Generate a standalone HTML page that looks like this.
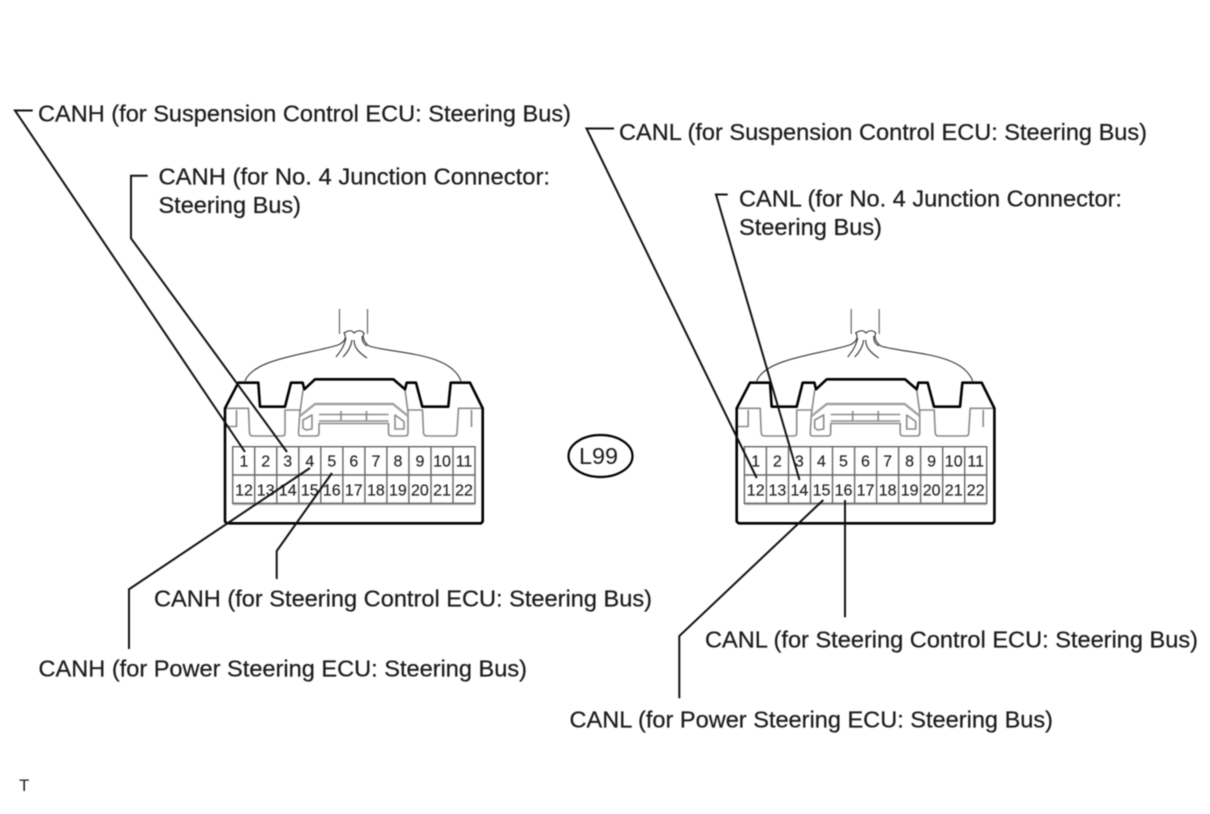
<!DOCTYPE html>
<html>
<head>
<meta charset="utf-8">
<style>
html,body{margin:0;padding:0;background:#fff;width:1210px;height:814px;overflow:hidden}
svg{display:block;filter:blur(.45px)}
text{font-family:"Liberation Sans",sans-serif;fill:#1c1c1c}
.l{font-size:23px;stroke:#1c1c1c;stroke-width:.25px}
.n{font-size:16px;text-anchor:middle;fill:#222;stroke:#222;stroke-width:.15px}
.o{fill:none;stroke:#000;stroke-width:2.6;stroke-linejoin:round}
.g{fill:none;stroke:#8a8a8a;stroke-width:1.6;stroke-linejoin:round}
.gb{fill:none;stroke:#a0a0a0;stroke-width:2.4;stroke-linejoin:round}
.t{fill:none;stroke:#333;stroke-width:1.1}
.c{fill:none;stroke:#666;stroke-width:1.2}
.w{fill:none;stroke:#111;stroke-width:2;stroke-linejoin:miter}
</style>
</head>
<body>
<svg width="1210" height="814" viewBox="0 0 1210 814" xmlns="http://www.w3.org/2000/svg">
<defs>
<g id="conn">
  <!-- wires -->
  <path class="c" d="M339.5 309V334M367.5 309V334"/>
  <path class="t" d="M245 381C254 358 310 354 338 345C345 342 347 337 344 333C349 330 352 330 354 333C358 330 361 330 364 333C362 338 364 342 369 346C395 354 450 352 461 381"/>
  <path class="t" d="M346 338C344 347 340 352 336 357M352 340C351 347 347 353 343 357M354 340C354 347 358 352 367 358M362 336C362 342 364 344 367 346"/>
  <!-- grey interior -->
  <path class="g" d="M226 408.3H248.5L249.5 433Q250 436 253 436H282Q285 436 285 433V410H300L298.5 433Q298.5 436 301 436H316Q319 436 319 433V423.5H388.5V433Q388.5 436 392 436H405Q408 436 408 433V410H422.5L423.5 433Q424 436 427 436H454Q457 436 457 433L458.5 408.3H482"/>
  <path class="g" d="M226 426.5H236.5V410M471.5 410V427"/>
  <path class="gb" d="M300 416L315 404H393L408 416"/>
  <path class="g" d="M303 428V420L312 415V429L306 430Z M395 415L404 421.5V429H395Z"/>
  <path class="g" d="M319 414.5H388.5M319 421H388.5M341 411V421.5M366.5 411V421.5"/>
  <path class="g" d="M303 390L300 412M405 390L408 412"/>
  <!-- outline -->
  <path class="o" d="M225 521.5V408.3L238.3 382.7H258.3L260 406.7H285L291 382.7H302.7L304.3 389.3L315 379.3H393.3L405 389.3L406.7 382.7H416L422.3 406.7H448.3L450.7 382.7H470L482.7 408.3V521.5L481 523.3H227Z"/>
  <!-- grid -->
  <path d="M232.7 504H475" fill="none" stroke="#bbb" stroke-width="2.5"/>
  <path fill="none" stroke="#666" stroke-width="1.4" d="M232.7 446.7H475V503.3H232.7ZM232.7 475H475M254.7 446.7V503.3M276.8 446.7V503.3M298.8 446.7V503.3M320.8 446.7V503.3M342.9 446.7V503.3M364.9 446.7V503.3M386.9 446.7V503.3M408.9 446.7V503.3M431 446.7V503.3M453 446.7V503.3"/>
</g>
</defs>

<use href="#conn"/>
<use href="#conn" x="511.7"/>

<!-- left pin numbers -->
<g>
<text class="n" x="244" y="466.7">1</text><text class="n" x="265.7" y="466.7">2</text><text class="n" x="287.7" y="466.7">3</text><text class="n" x="309.8" y="466.7">4</text><text class="n" x="331.8" y="466.7">5</text><text class="n" x="353.8" y="466.7">6</text><text class="n" x="375.9" y="466.7">7</text><text class="n" x="397.9" y="466.7">8</text><text class="n" x="419.9" y="466.7">9</text><text class="n" x="442" y="466.7">10</text><text class="n" x="464" y="466.7">11</text>
<text class="n" x="244" y="495.7">12</text><text class="n" x="265.7" y="495.7">13</text><text class="n" x="287.7" y="495.7">14</text><text class="n" x="309.8" y="495.7">15</text><text class="n" x="331.8" y="495.7">16</text><text class="n" x="353.8" y="495.7">17</text><text class="n" x="375.9" y="495.7">18</text><text class="n" x="397.9" y="495.7">19</text><text class="n" x="419.9" y="495.7">20</text><text class="n" x="442" y="495.7">21</text><text class="n" x="464" y="495.7">22</text>
</g>
<!-- right pin numbers -->
<g transform="translate(511.7 0)">
<text class="n" x="244" y="466.7">1</text><text class="n" x="265.7" y="466.7">2</text><text class="n" x="287.7" y="466.7">3</text><text class="n" x="309.8" y="466.7">4</text><text class="n" x="331.8" y="466.7">5</text><text class="n" x="353.8" y="466.7">6</text><text class="n" x="375.9" y="466.7">7</text><text class="n" x="397.9" y="466.7">8</text><text class="n" x="419.9" y="466.7">9</text><text class="n" x="442" y="466.7">10</text><text class="n" x="464" y="466.7">11</text>
<text class="n" x="244" y="495.7">12</text><text class="n" x="265.7" y="495.7">13</text><text class="n" x="287.7" y="495.7">14</text><text class="n" x="309.8" y="495.7">15</text><text class="n" x="331.8" y="495.7">16</text><text class="n" x="353.8" y="495.7">17</text><text class="n" x="375.9" y="495.7">18</text><text class="n" x="397.9" y="495.7">19</text><text class="n" x="419.9" y="495.7">20</text><text class="n" x="442" y="495.7">21</text><text class="n" x="464" y="495.7">22</text>
</g>

<!-- leader lines -->
<path class="w" d="M32.7 110.5H15L245 452"/>
<path class="w" d="M147.7 175.7H131V238.3L287 452"/>
<path class="w" d="M129 649V589.3L310 468"/>
<path class="w" d="M276.7 579V551L332 473"/>
<path class="w" d="M614 128.5H586.5L756.7 478"/>
<path class="w" d="M727.7 194.5H716L799.5 480"/>
<path class="w" d="M679.3 698.3V636L823.3 500"/>
<path class="w" d="M845 617.3V500"/>

<!-- labels -->
<text class="l" x="38" y="121.7" textLength="533" lengthAdjust="spacingAndGlyphs">CANH (for Suspension Control ECU: Steering Bus)</text>
<text class="l" x="158.5" y="184.5" textLength="391.5" lengthAdjust="spacingAndGlyphs">CANH (for No. 4 Junction Connector:</text>
<text class="l" x="158.5" y="212.9" textLength="142.5" lengthAdjust="spacingAndGlyphs">Steering Bus)</text>
<text class="l" x="619" y="140" textLength="528" lengthAdjust="spacingAndGlyphs">CANL (for Suspension Control ECU: Steering Bus)</text>
<text class="l" x="739" y="206.7" textLength="383" lengthAdjust="spacingAndGlyphs">CANL (for No. 4 Junction Connector:</text>
<text class="l" x="739" y="235" textLength="143" lengthAdjust="spacingAndGlyphs">Steering Bus)</text>
<text class="l" x="154" y="606.7" textLength="498" lengthAdjust="spacingAndGlyphs">CANH (for Steering Control ECU: Steering Bus)</text>
<text class="l" x="38.5" y="676.7" textLength="488.5" lengthAdjust="spacingAndGlyphs">CANH (for Power Steering ECU: Steering Bus)</text>
<text class="l" x="705" y="647.3" textLength="493" lengthAdjust="spacingAndGlyphs">CANL (for Steering Control ECU: Steering Bus)</text>
<text class="l" x="569.5" y="727.7" textLength="483.5" lengthAdjust="spacingAndGlyphs">CANL (for Power Steering ECU: Steering Bus)</text>

<!-- L99 -->
<ellipse cx="600.5" cy="456" rx="32" ry="21" fill="none" stroke="#000" stroke-width="2.2"/>
<text x="579" y="464" font-size="23.5" textLength="39" lengthAdjust="spacingAndGlyphs">L99</text>

<text x="19" y="791" font-size="17">T</text>
</svg>
</body>
</html>
